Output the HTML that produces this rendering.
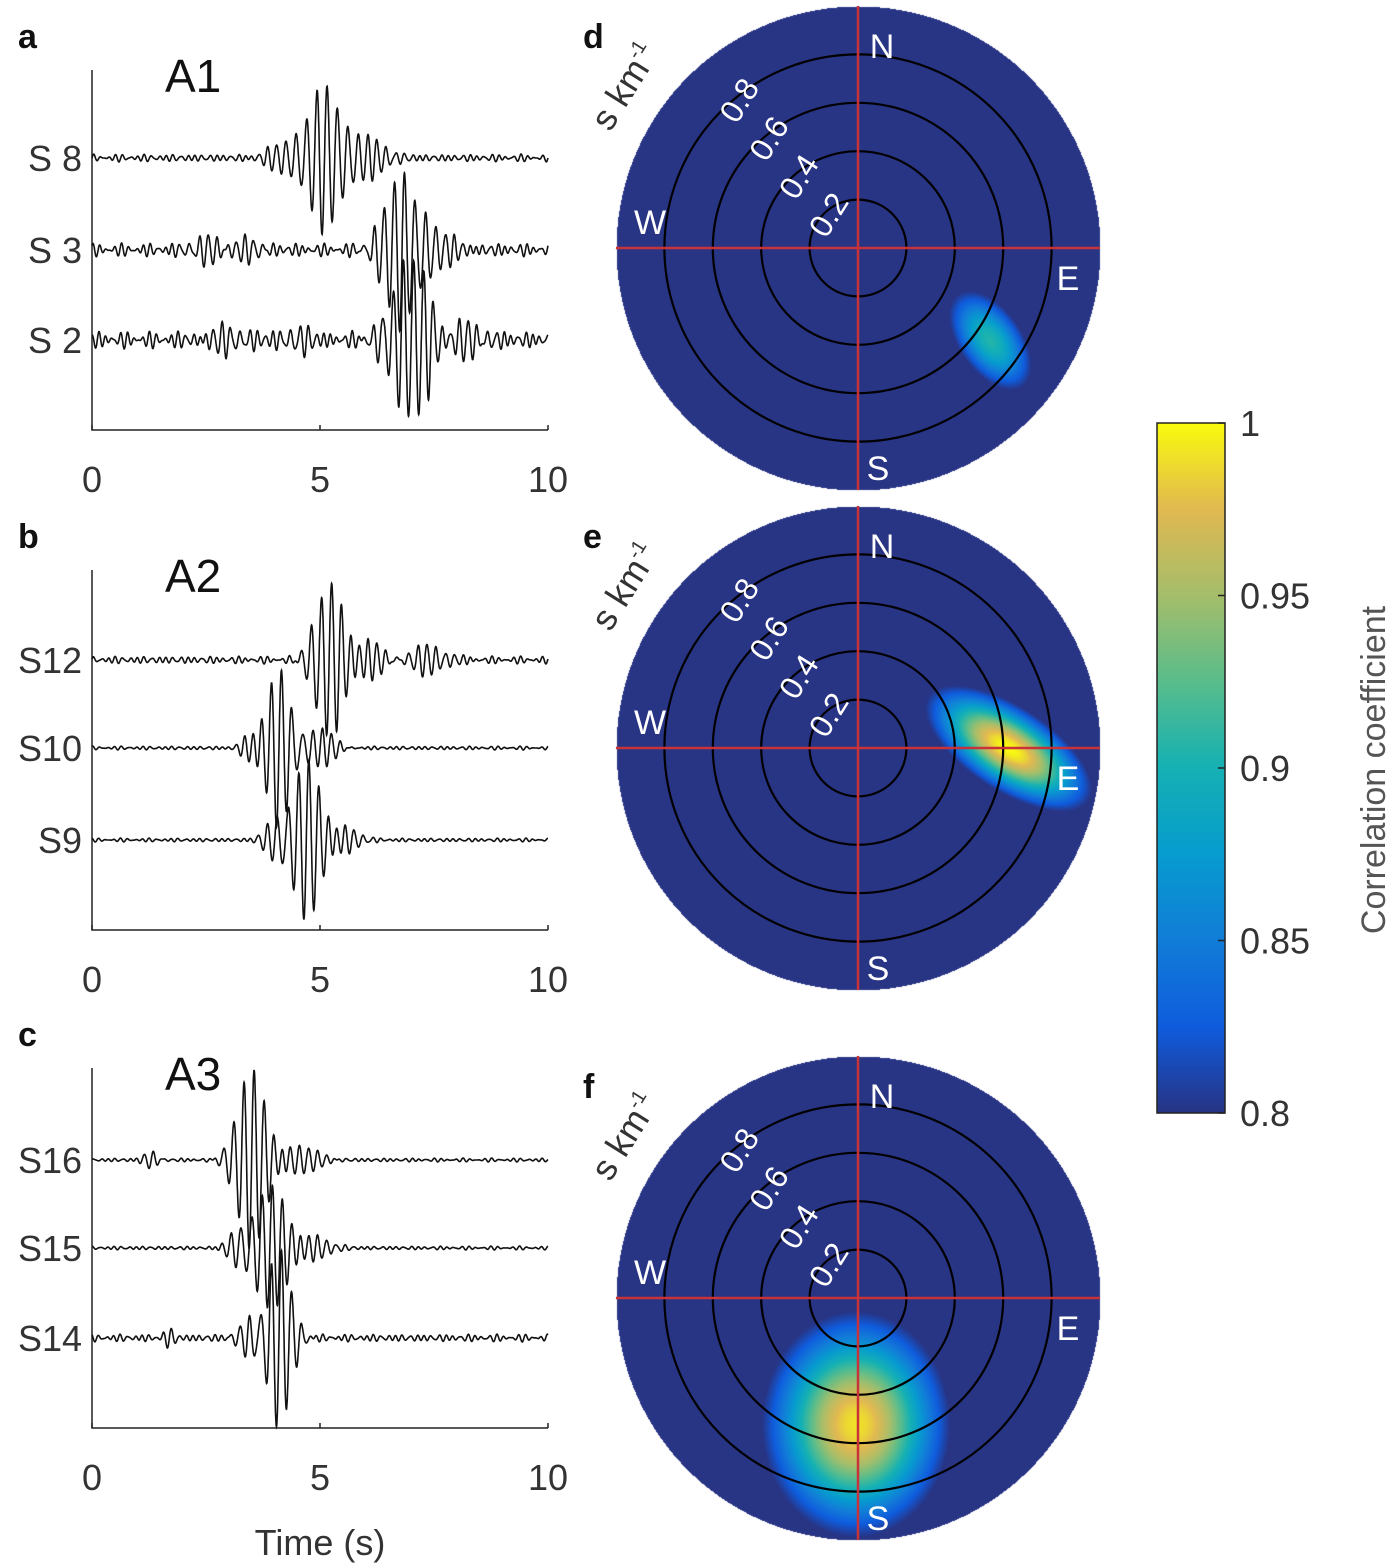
<!DOCTYPE html>
<html><head><meta charset="utf-8">
<style>
body{margin:0;background:#fff;}
#wrap{position:relative;width:1400px;height:1568px;overflow:hidden;font-family:"Liberation Sans",sans-serif;}
canvas{position:absolute;left:0;top:0;}
svg{position:absolute;left:0;top:0;}
</style></head>
<body>
<div id="wrap">
<canvas id="heat" width="1400" height="1568"></canvas>
<svg id="svg" width="1400" height="1568"></svg>
</div>
<script>
// ---------- data ----------
const panelLetters = ['a','b','c'];
const arrayTitles = ['A1','A2','A3'];
const stationNames = [['S 8','S 3','S 2'],['S12','S10','S9'],['S16','S15','S14']];
const timeTicks = [0,5,10];
// packets: [arrival s, amplitude px, freq Hz, width s]
const packets = [
 [[[4.2,15,5,0.3],[5.1,75,4.5,0.35],[6.0,20,5,0.4]],
  [[2.5,12,5,0.3],[3.5,12,5,0.3],[6.8,80,4.5,0.35],[7.5,20,5,0.4]],
  [[3.0,15,5,0.4],[4.5,15,5,0.3],[7.0,80,4.5,0.4],[8.0,18,5,0.5]]],
 [[[5.2,75,4.5,0.3],[6.0,20,5,0.4],[7.3,15,5,0.4]],
  [[3.5,15,5,0.2],[4.1,80,4.5,0.25],[5.0,20,5,0.3]],
  [[4.0,20,5,0.2],[4.7,80,4.5,0.3],[5.5,15,5,0.3]]],
 [[[1.3,8,5,0.15],[3.5,90,4.5,0.3],[4.5,15,5,0.4]],
  [[3.2,15,5,0.2],[3.9,60,4.5,0.35],[4.7,15,5,0.4]],
  [[1.7,8,5,0.15],[3.4,20,5,0.2],[4.1,90,4.5,0.25]]]
];
const noiseAmp = [[4,7,9],[4,2,2],[2,2,4]];
const polarLetters = ['d','e','f'];
const ringValues = [0.2,0.4,0.6,0.8];
// blobs: [sx, sy (north +), sigmaMajor, sigmaMinor (slowness), angle deg, peak]
const blobs = [
 [0.545,-0.38,0.18,0.10,-55,0.905],
 [0.62,0.0,0.25,0.11,-33,1.0],
 [-0.01,-0.52,0.25,0.30,0,0.99]
];
const cbTicks = [1,0.95,0.9,0.85,0.8];

// ---------- layout ----------
const NS='http://www.w3.org/2000/svg';
const svg=document.getElementById('svg');
function mk(tag,attrs,parent){const e=document.createElementNS(NS,tag);for(const k in attrs)e.setAttribute(k,attrs[k]);(parent||svg).appendChild(e);return e;}
function txt(s,attrs,parent){const e=mk('text',attrs,parent);e.textContent=s;return e;}

const axX0=92, axX1=548;
const panelTop=[70,570,1068], panelH=360;
const traceY=[[158,250,340],[660,748,840],[1160,1248,1338]];
const xs=t=>axX0+(t/10)*(axX1-axX0);

for(let p=0;p<3;p++){
  const g=mk('g',{});
  
  
  const top=panelTop[p], bot=top+panelH;
  mk('path',{d:`M${axX0} ${top}V${bot}H${axX1}`,stroke:'#222','stroke-width':1.5,fill:'none'},g);
  timeTicks.forEach(t=>{
    mk('line',{x1:xs(t),x2:xs(t),y1:bot,y2:bot-5,stroke:'#222','stroke-width':1.5},g);
    const tl=txt(String(t),{x:xs(t),y:bot+62,'font-size':36,'text-anchor':'middle',fill:'#333'},g);
    
    
  });
  const L=txt(panelLetters[p],{x:18,y:top-22,'font-size':34,'font-weight':'bold',fill:'#111'},g);
  
  
  const T=txt(arrayTitles[p],{x:165,y:top+22,'font-size':46,fill:'#111'},g);
  
  
  for(let s=0;s<3;s++){
    const y0=traceY[p][s];
    const sl=txt(stationNames[p][s],{x:82,y:y0+13,'font-size':36,'text-anchor':'end',fill:'#333'},g);
    
    
    let d='';
    const na=noiseAmp[p][s];
    for(let i=0;i<=2000;i++){
      const t=i/200;
      let v=na*(0.5*Math.sin(2*Math.PI*6.3*t+s)+0.3*Math.sin(2*Math.PI*8.1*t+p)+0.2*Math.sin(2*Math.PI*4.7*t+1.3*s));
      packets[p][s].forEach(k=>{const dt=t-k[0];v+=k[1]*Math.exp(-dt*dt/(2*k[3]*k[3]))*Math.sin(2*Math.PI*k[2]*dt);});
      d+=(i?'L':'M')+xs(t).toFixed(1)+' '+(y0-v).toFixed(1);
    }
    const tr=mk('path',{d:d,stroke:'#111','stroke-width':1.6,fill:'none'},g);
    
    
  }
}
const xt=txt('Time (s)',{x:320,y:1555,'font-size':36,'text-anchor':'middle',fill:'#333'});



// ---------- colormap ----------
const cmap=[[40,52,132],[15,92,221],[18,125,216],[7,156,207],[21,177,180],[89,189,140],[165,190,107],[225,185,82],[249,251,14]];
function col(v){
  let f=(v-0.8)/0.2; f=Math.max(0,Math.min(1,f));
  const x=f*8, i=Math.min(7,Math.floor(x)), r=x-i;
  return cmap[i].map((c,j)=>c+(cmap[i+1][j]-c)*r);
}

// ---------- polar plots ----------
const cx=858, cyList=[248,748,1298], R=242;
const ctx=document.getElementById('heat').getContext('2d');
for(let p=0;p<3;p++){
  const cy=cyList[p];
  const img=ctx.createImageData(2*R,2*R);
  const b=blobs[p], a=b[4]*Math.PI/180;
  for(let j=0;j<2*R;j++)for(let i=0;i<2*R;i++){
    const dx=i-R, dy=j-R, idx=(j*2*R+i)*4;
    if(dx*dx+dy*dy>R*R){img.data[idx+3]=0;continue;}
    const sx=dx/R, sy=-dy/R;
    const u=sx-b[0], w=sy-b[1];
    const ua=u*Math.cos(a)+w*Math.sin(a), wa=-u*Math.sin(a)+w*Math.cos(a);
    const g=Math.exp(-(ua*ua/(2*b[2]*b[2])+wa*wa/(2*b[3]*b[3])));
    const v=0.72+(b[5]-0.72)*g;
    const c=col(v);
    img.data[idx]=c[0];img.data[idx+1]=c[1];img.data[idx+2]=c[2];img.data[idx+3]=255;
  }
  ctx.putImageData(img,cx-R,cy-R);

  const g=mk('g',{});
  
  
  ringValues.forEach(rv=>{
    const c=mk('circle',{cx:cx,cy:cy,r:rv*R,fill:'none',stroke:'#000','stroke-width':2.2},g);
    
    
    const ang=-128*Math.PI/180, rr=rv*R-6;
    const lx=cx+rr*Math.cos(ang)+6, ly=cy+rr*Math.sin(ang)+6;
    const t=txt(rv.toFixed(1),{x:lx,y:ly,'font-size':32,fill:'#fff','text-anchor':'middle',transform:`rotate(-58 ${lx} ${ly})`},g);
    
    
  });
  mk('line',{x1:cx-R,x2:cx+R,y1:cy,y2:cy,stroke:'#c8333a','stroke-width':2.5},g);
  mk('line',{x1:cx,x2:cx,y1:cy-R,y2:cy+R,stroke:'#c8333a','stroke-width':2.5},g);
  const comp=[['N',cx+24,cy-190],['W',cx-208,cy-14],['E',cx+210,cy+42],['S',cx+20,cy+232]];
  comp.forEach(c=>{const t=txt(c[0],{x:c[1],y:c[2],'font-size':34,fill:'#fff','text-anchor':'middle'},g);
    });
  const ux=635, uy=cy-155;
  const unit=txt('s km',{x:ux,y:uy,'font-size':36,fill:'#333','text-anchor':'middle',transform:`rotate(-58 ${ux} ${uy})`},g);
  const sup=mk('tspan',{'font-size':20,dy:-15},unit);sup.textContent='-1';
  
  
  const L=txt(polarLetters[p],{x:583,y:cy-200,'font-size':34,'font-weight':'bold',fill:'#111'},g);
  
  
}

// ---------- colorbar ----------
const cbX=1157, cbW=68, cbTop=423, cbBot=1113;
for(let y=cbTop;y<cbBot;y++){
  const v=1-(y-cbTop)/(cbBot-cbTop)*0.2;
  const c=col(v);
  ctx.fillStyle=`rgb(${c[0]|0},${c[1]|0},${c[2]|0})`;
  ctx.fillRect(cbX,y,cbW,1);
}
const cb=mk('g',{});


mk('rect',{x:cbX,y:cbTop,width:cbW,height:cbBot-cbTop,fill:'none',stroke:'#222','stroke-width':1.5},cb);
const cy_=v=>cbTop+(1-v)/0.2*(cbBot-cbTop);
cbTicks.forEach(v=>{
  mk('line',{x1:cbX+cbW,x2:cbX+cbW-7,y1:cy_(v),y2:cy_(v),stroke:'#222','stroke-width':1.5},cb);
  const t=txt(String(v),{x:1240,y:cy_(v)+13,'font-size':36,fill:'#333'},cb);
  
  
});
const ct=txt('Correlation coefficient',{x:1385,y:770,'font-size':34,fill:'#555','text-anchor':'middle',transform:'rotate(-90 1385 770)'},cb);


</script>
</body></html>
